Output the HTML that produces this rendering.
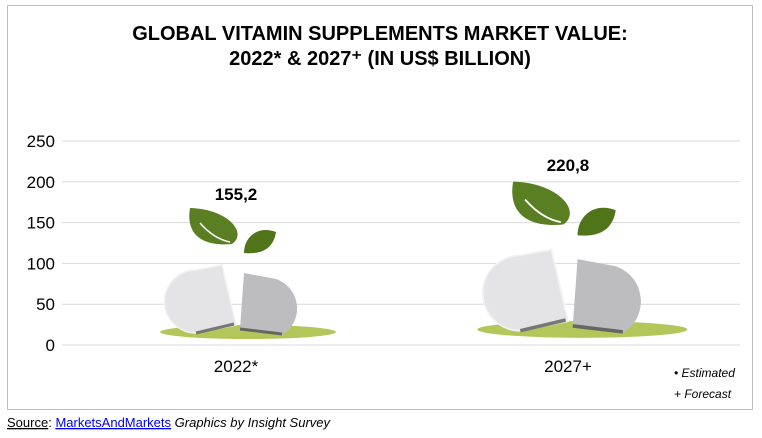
<!DOCTYPE html>
<html><head><meta charset="utf-8"><style>
body{margin:0;background:#fff;}
svg{display:block;font-family:"Liberation Sans",Arial,sans-serif;}
</style></head><body>
<svg id="chart" width="762" height="438" viewBox="0 0 762 438" xmlns="http://www.w3.org/2000/svg">
<rect x="7.5" y="5.5" width="745" height="404" fill="#fff" stroke="#bfbfbf"/>
<text x="380" y="40" text-anchor="middle" font-size="20" font-weight="bold" fill="#000">GLOBAL VITAMIN SUPPLEMENTS MARKET VALUE:</text>
<text x="380" y="65" text-anchor="middle" font-size="20" font-weight="bold" fill="#000">2022* &amp; 2027⁺ (IN US$ BILLION)</text>
<g id="grid"></g><g id="yticks"></g><g id="marks"></g>
<text x="674" y="377" font-size="12" font-style="italic" fill="#000">•  Estimated</text>
<text x="674" y="398" font-size="12" font-style="italic" fill="#000">+ Forecast</text>
<text x="7" y="427" font-size="13" fill="#000"><tspan text-decoration="underline">Source</tspan>: <tspan fill="#0000ee" text-decoration="underline">MarketsAndMarkets</tspan> <tspan font-style="italic">Graphics by Insight Survey</tspan></text>
</svg>
<script>
const categories=["2022*","2027+"];
const values=[155.2,220.8];
const valueLabels=["155,2","220,8"];
const ticks=[0,50,100,150,200,250];
const NS="http://www.w3.org/2000/svg";
const y=v=>345-v*(204/250);
const xc=i=>236+i*332;
function mk(tag,attrs,parent,text){const e=document.createElementNS(NS,tag);for(const k in attrs)e.setAttribute(k,attrs[k]);if(text!==undefined)e.textContent=text;parent.appendChild(e);return e;}
const grid=document.getElementById('grid'),yt=document.getElementById('yticks'),marks=document.getElementById('marks');
ticks.forEach(t=>{
 const l=mk('line',{x1:62,x2:740,y1:y(t),y2:y(t),stroke:'#d9d9d9','stroke-width':1},grid);
 
 
 const tx=mk('text',{x:55,y:y(t)+6,'text-anchor':'end','font-size':17,fill:'#000'},yt,String(t));
 
 
});
categories.forEach((c,i)=>{
 const s=Math.sqrt(values[i]/155.2);
 const g=mk('g',{transform:`translate(${xc(i)},345) scale(${s})`},marks);
 
 
 mk('ellipse',{cx:12,cy:-13,rx:88,ry:7,fill:'#b3c65a'},g);
 mk('path',{d:'M -40,-75 L -14,-80 L 0,-20 L -40,-12 A 31 31 0 0 1 -40,-75 Z',fill:'#e4e4e6',stroke:'#f2f2f2','stroke-width':1.5},g);
 mk('path',{d:'M -2,-21 L -40,-12',stroke:'#777','stroke-width':3},g);
 mk('path',{d:'M 8,-72 L 40,-66 A 31 31 0 0 1 46,-10 L 4,-16 Z',fill:'#bdbdbf'},g);
 mk('path',{d:'M 4,-16 L 46,-11',stroke:'#666','stroke-width':3},g);
 mk('path',{d:'M -46,-137 C -8,-136 12,-112 -4,-101 C -38,-98 -50,-114 -46,-137 Z',fill:'#5a7f22'},g);
 mk('path',{d:'M -36,-122 Q -22,-106 -6,-103',stroke:'#fff','stroke-width':1.5,fill:'none'},g);
 mk('path',{d:'M 40,-113 C 22,-120 8,-108 8,-92 C 30,-90 38,-100 40,-113 Z',fill:'#4f7419'},g);
 const v=mk('text',{x:xc(i),y:350-150*s,'text-anchor':'middle','font-size':17,'font-weight':'bold',fill:'#000'},marks,valueLabels[i]);
 
 
 const xl=mk('text',{x:xc(i),y:372,'text-anchor':'middle','font-size':17,fill:'#000'},marks,c);
 
 
});
</script>
</body></html>
